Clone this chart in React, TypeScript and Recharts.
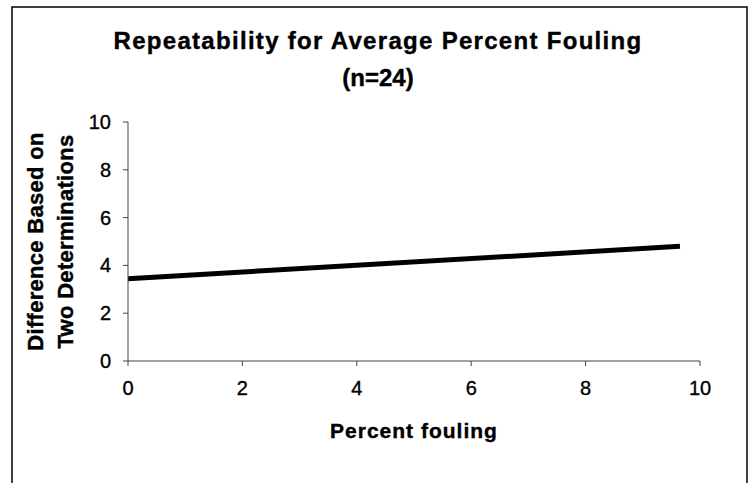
import React from 'react';
import { LineChart, Line, XAxis, YAxis } from 'recharts';

const fitX = [0, 9.65];
const fitY = [3.44, 4.8];
const xTicks = [0, 2, 4, 6, 8, 10];
const yTicks = [0, 2, 4, 6, 8, 10];
const titleLines = ['Repeatability for Average Percent Fouling', '(n=24)'];
const xTitle = 'Percent fouling';
const yTitleLines = ['Difference Based on', 'Two Determinations'];

const data = fitX.map((x, i) => ({ x, y: fitY[i] }));

const FONT = '"Liberation Sans", Arial, Helvetica, sans-serif';

const XTick = (props: any) => {
  const { x, y, payload } = props;
  return (
    <text x={x} y={y} dy={29} textAnchor="middle" fontFamily={FONT} fontSize={20} fill="#000" stroke="#000" strokeWidth={0.35}>
      {payload.value}
    </text>
  );
};

const YTick = (props: any) => {
  const { x, y, payload } = props;
  return (
    <text x={x} y={y} dy={7} textAnchor="end" fontFamily={FONT} fontSize={20} fill="#000" stroke="#000" strokeWidth={0.35}>
      {payload.value}
    </text>
  );
};

const XLabel = (props: any) => {
  const vb = props.viewBox || { x: 128, y: 361, width: 572 };
  const cx = vb.x + vb.width / 2;
  return (
    <text x={cx} y={vb.y + 77} textAnchor="middle" fontFamily={FONT} fontSize={21} fontWeight="bold" letterSpacing={1} fill="#000" stroke="#000" strokeWidth={0.4}>
      {xTitle}
    </text>
  );
};

const YLabel = (props: any) => {
  const vb = props.viewBox || { x: 0, y: 122, width: 128, height: 239 };
  const cy = vb.y + vb.height / 2;
  const xs = [43, 73];
  return (
    <g>
      {yTitleLines.map((t, i) => (
        <text
          key={i}
          x={xs[i]}
          y={cy}
          transform={`rotate(-90, ${xs[i]}, ${cy})`}
          textAnchor="middle"
          fontFamily={FONT}
          fontSize={22}
          fontWeight="bold"
          letterSpacing={0.3}
          fill="#000"
          stroke="#000"
          strokeWidth={0.4}
        >
          {t}
        </text>
      ))}
    </g>
  );
};

export default function App() {
  return (
    <div style={{ position: 'absolute', left: 0, top: 0, width: 752, height: 483, background: '#fff', overflow: 'hidden' }}>
      <LineChart
        width={752}
        height={483}
        data={data}
        margin={{ top: 122, right: 52, bottom: 22, left: 0 }}
      >
        <XAxis
          dataKey="x"
          type="number"
          domain={[0, 10]}
          ticks={xTicks}
          interval={0}
          height={100}
          tickSize={5}
          tickMargin={0}
          stroke="#444"
          tick={<XTick />}
          label={<XLabel />}
        />
        <YAxis
          dataKey="y"
          type="number"
          domain={[0, 10]}
          ticks={yTicks}
          interval={0}
          width={128}
          tickSize={5}
          tickMargin={12}
          stroke="#444"
          tick={<YTick />}
          label={<YLabel />}
        />
        <Line
          dataKey="y"
          type="linear"
          stroke="#000"
          strokeWidth={5}
          dot={false}
          activeDot={false}
          isAnimationActive={false}
        />
      </LineChart>
      <svg
        width={752}
        height={483}
        style={{ position: 'absolute', left: 0, top: 0, pointerEvents: 'none' }}
      >
        <rect x={12} y={7} width={735} height={490} fill="none" stroke="#000" strokeWidth={1.5} />
        <text x={378} y={49} textAnchor="middle" fontFamily={FONT} fontSize={24} fontWeight="bold" letterSpacing={1.3} fill="#000" stroke="#000" strokeWidth={0.4}>
          {titleLines[0]}
        </text>
        <text x={378} y={86} textAnchor="middle" fontFamily={FONT} fontSize={24} fontWeight="bold" fill="#000" stroke="#000" strokeWidth={0.4}>
          {titleLines[1]}
        </text>
      </svg>
    </div>
  );
}
